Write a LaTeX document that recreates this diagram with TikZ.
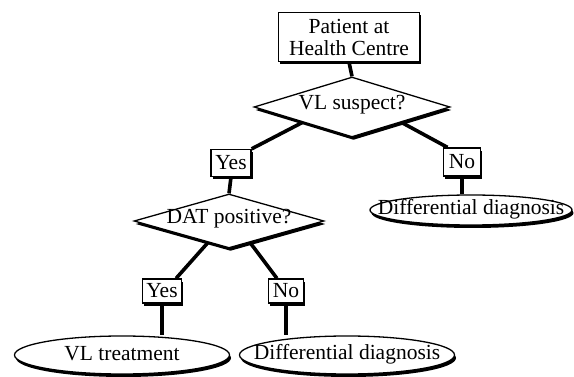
\documentclass[tikz,border=0pt]{standalone}
\usepackage{fontspec}
\setmainfont{Liberation Serif}
\usetikzlibrary{shapes.geometric,shadows,calc}
\tikzset{
  shad/.style={drop shadow={shadow xshift=1.5pt, shadow yshift=-3pt, fill=black, opacity=1}},
  txt/.style={font=\fontsize{21.5}{22}\selectfont, inner sep=0pt, align=center},
  boxnode/.style={rectangle, draw=black, line width=1.3pt, fill=white, shad, inner sep=1pt, txt},
  decnode/.style={diamond, draw=black, line width=1.3pt, fill=white, shad, inner sep=0pt},
  endnode/.style={ellipse, draw=black, line width=1.3pt, fill=white, shad, inner sep=0pt},
  conn/.style={draw=black, line width=3.6pt}
}
\begin{document}
\begin{tikzpicture}[x=1pt,y=-1pt]
\useasboundingbox (0,0) rectangle (574,377);
\node[boxnode, minimum width=141pt, minimum height=49pt] (top) at (349,37) {Patient at\\Health Centre};
\node[decnode, minimum width=196pt, minimum height=60pt] (vl) at (352,107) {};
\node[txt] (vlt-t) at (352,105) {VL suspect?};
\node[boxnode, minimum width=40pt, minimum height=27pt] (yes1) at (231,163) {Yes};
\node[boxnode, minimum width=37pt, minimum height=28pt] (no1) at (462,162) {No};
\node[decnode, minimum width=190pt, minimum height=54pt] (dat) at (229,221) {};
\node[txt] (dat-t) at (229,219) {DAT positive?};
\node[endnode, minimum width=202pt, minimum height=30pt] (dd1) at (471,210) {};
\node[txt] (dd1-t) at (471,209) {Differential diagnosis};
\node[boxnode, minimum width=39pt, minimum height=24pt] (yes2) at (162,291) {Yes};
\node[boxnode, minimum width=35pt, minimum height=24pt] (no2) at (286,291) {No};
\node[endnode, minimum width=215pt, minimum height=38pt] (vlt) at (122,355) {};
\node[txt] (vlt-t) at (122,354) {VL treatment};
\node[endnode, minimum width=215pt, minimum height=38pt] (dd2) at (347,355) {};
\node[txt] (dd2-t) at (347,354) {Differential diagnosis};
% connectors
\draw[conn] (top.south) -- (vl.north);
\draw[conn] ($(vl.south)!0.5!(vl.west)$) -- (yes1.north east);
\draw[conn] ($(vl.south)!0.5!(vl.east)$) -- ($(no1.north west)!0.12!(no1.north east)$);
\draw[conn] (yes1.south) -- (dat.north);
\draw[conn] (no1.south) -- (no1.south |- dd1.north);
\draw[conn] ($(dat.south)!0.22!(dat.west)$) -- ($(yes2.north east)!0.15!(yes2.north west)$);
\draw[conn] ($(dat.south)!0.22!(dat.east)$) -- ($(no2.north west)!0.25!(no2.north east)$);
\draw[conn] (yes2.south) -- (yes2.south |- vlt.north);
\draw[conn] (no2.south) -- (no2.south |- dd2.north);
\end{tikzpicture}
\end{document}
